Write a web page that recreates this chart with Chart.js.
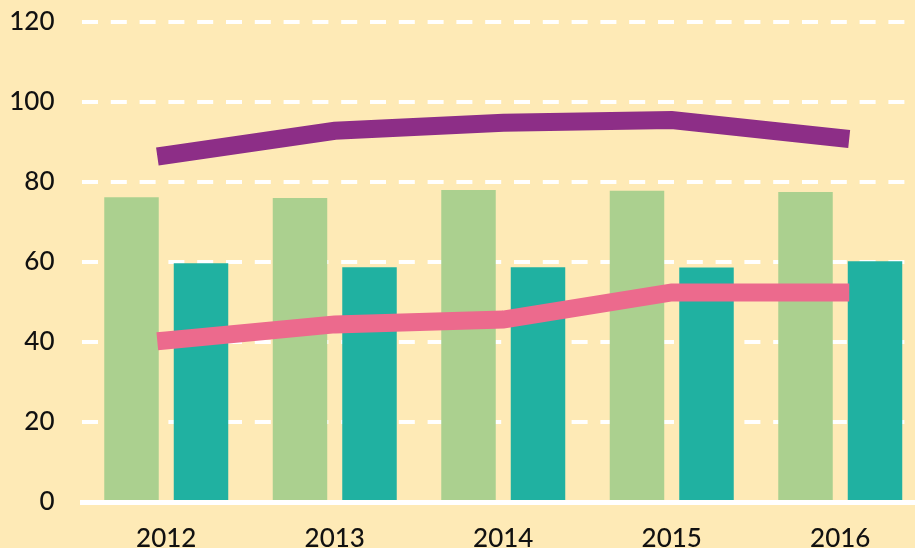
<!DOCTYPE html>
<html>
<head>
<meta charset="utf-8">
<script src="https://cdn.jsdelivr.net/npm/chart.js@4/dist/chart.umd.min.js"></script>
<style>
    html, body { margin: 0; padding: 0; overflow: hidden; background: #FEEAB6; }
    #wrap { width: 940px; height: 548px; }
</style>
</head>
<body>
<div id="wrap"><canvas id="chart" width="940" height="548"></canvas></div>
<script>
// Datos
const years = ['2012', '2013', '2014', '2015', '2016'];
const greenBars = [76.2, 76.0, 78.0, 77.8, 77.5];
const tealBars = [59.7, 58.7, 58.7, 58.6, 60.2];
const purpleLine = [86.7, 92.8, 94.8, 95.5, 91.0];
const pinkLine = [40.4, 44.4, 45.6, 52.4, 52.4];
const yTicks = [0, 20, 40, 60, 80, 100, 120];

const fontFamily = 'Lato, "Noto Sans", sans-serif';
const textColor = '#111111';

const ctx = document.getElementById('chart').getContext('2d');

new Chart(ctx, {
    type: 'bar',
    data: {
        labels: years,
        datasets: [
            {
                type: 'line',
                data: purpleLine,
                borderColor: '#8D2E87',
                borderWidth: 18,
                borderCapStyle: 'square',
                borderJoinStyle: 'miter',
                pointRadius: 0,
                tension: 0,
                fill: false,
                order: 0
            },
            {
                type: 'line',
                data: pinkLine,
                borderColor: '#EC6A8D',
                borderWidth: 18,
                borderCapStyle: 'square',
                borderJoinStyle: 'miter',
                pointRadius: 0,
                tension: 0,
                fill: false,
                order: 0
            },
            {
                data: greenBars,
                backgroundColor: '#ABD08F',
                categoryPercentage: 0.825,
                barPercentage: 0.784,
                order: 1
            },
            {
                data: tealBars,
                backgroundColor: '#20B1A1',
                categoryPercentage: 0.825,
                barPercentage: 0.784,
                order: 1
            }
        ]
    },
    options: {
        responsive: false,
        animation: false,
        layout: {
            padding: { top: 22, right: 15.5, bottom: 0, left: 0 }
        },
        plugins: {
            legend: { display: false },
            tooltip: { enabled: false }
        },
        scales: {
            x: {
                grid: { display: false, drawTicks: false },
                border: { display: true, color: '#ffffff', width: 5 },
                ticks: {
                    color: textColor,
                    font: { family: fontFamily, size: 26, weight: '500' },
                    padding: 21
                },
                afterFit: function(scale) {
                    scale.height = 46;
                }
            },
            y: {
                min: yTicks[0],
                max: yTicks[yTicks.length - 1],
                grid: {
                    color: function(context) {
                        return context.tick && context.tick.value === 0 ? 'rgba(0,0,0,0)' : '#ffffff';
                    },
                    lineWidth: 4,
                    drawTicks: false
                },
                border: { display: false, dash: [16, 12.8] },
                ticks: {
                    stepSize: 20,
                    color: textColor,
                    font: { family: fontFamily, size: 26, weight: '500' },
                    padding: 27.5
                },
                afterFit: function(scale) {
                    scale.width = 82;
                    scale.paddingTop = 0;
                    scale.paddingBottom = 0;
                }
            }
        }
    }
});
</script>
</body>
</html>
